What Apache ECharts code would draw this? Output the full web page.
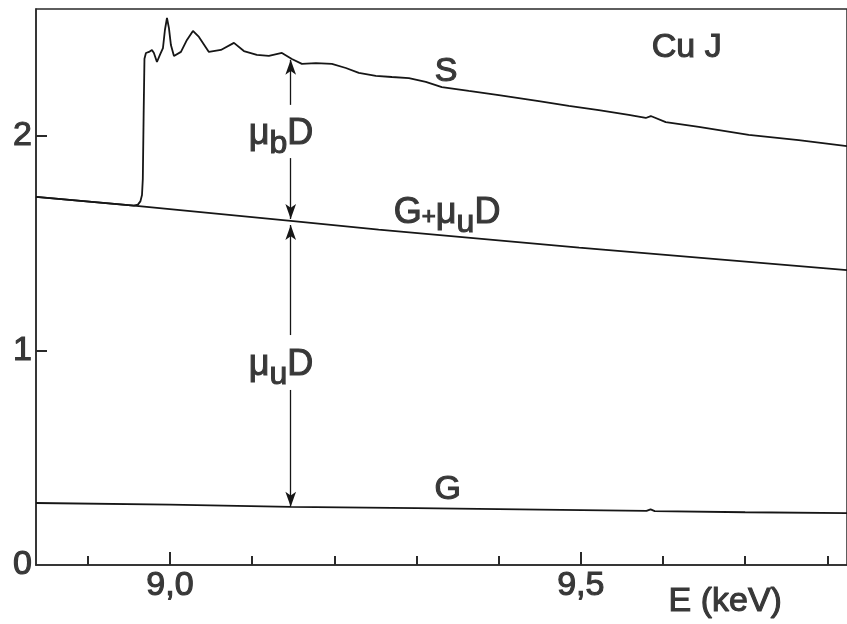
<!DOCTYPE html>
<html>
<head>
<meta charset="utf-8">
<script src="https://cdn.jsdelivr.net/npm/echarts@6/dist/echarts.min.js"></script>
<style>
html, body { margin: 0; padding: 0; background: #fff; }
#chart { width: 847px; height: 624px; }
</style>
</head>
<body>
<div id="chart"></div>
<script>
// Axis ranges and ticks
const energyRange = [8.837, 9.824];
const energyTicks = [8.9, 9.0, 9.1, 9.2, 9.3, 9.4, 9.5, 9.6, 9.7, 9.8];
const energyLabels = [9.0, 9.5];
const absorptionRange = [0, 2.592];
const absorptionTicks = [1, 2];
const absorptionLabels = [0, 1, 2];

// G: empty-cell background
const gCurve = [
  [8.837, 0.289], [9.0, 0.281], [9.147, 0.271], [9.3, 0.265], [9.45, 0.258],
  [9.58, 0.252], [9.585, 0.259], [9.59, 0.251], [9.7, 0.246], [9.824, 0.242]
];

// G + mu_u D: background plus unbound absorption
const guCurve = [
  [8.837, 1.716], [8.956, 1.675], [9.147, 1.604], [9.254, 1.563],
  [9.498, 1.480], [9.824, 1.375]
];

// S: measured CuJ spectrum across the Cu K edge
const sCurve = [
  [8.837, 1.716], [8.956, 1.675], [8.961, 1.680], [8.964, 1.695], [8.966, 1.725],
  [8.967, 1.80], [8.968, 2.10], [8.969, 2.36], [8.9708, 2.387], [8.9745, 2.392],
  [8.9781, 2.401], [8.9805, 2.387], [8.9842, 2.345], [8.9878, 2.378], [8.9915, 2.410],
  [8.9939, 2.494], [8.9964, 2.550], [8.9988, 2.503], [9.0012, 2.424], [9.0049, 2.373],
  [9.0073, 2.368], [9.0134, 2.392], [9.0207, 2.448], [9.0280, 2.490], [9.0353, 2.462],
  [9.0474, 2.392], [9.0620, 2.401], [9.0779, 2.434], [9.0900, 2.396], [9.1058, 2.378],
  [9.1204, 2.373], [9.1363, 2.387], [9.1484, 2.359], [9.1606, 2.336], [9.1776, 2.340],
  [9.1971, 2.336], [9.2141, 2.317], [9.2299, 2.294], [9.2506, 2.280], [9.2701, 2.275],
  [9.2908, 2.270], [9.3114, 2.252], [9.3309, 2.228], [9.3637, 2.210], [9.4002, 2.191],
  [9.4489, 2.163], [9.4854, 2.140], [9.5219, 2.121], [9.5584, 2.098], [9.5791, 2.084],
  [9.5852, 2.093], [9.6034, 2.065], [9.6436, 2.042], [9.7044, 2.005], [9.7652, 1.981],
  [9.824, 1.953]
];

// Dimension arrows at one energy: [tip, shaft end] pairs with a gap for the label
const arrowEnergy = 9.147;
const muBArrow = [[2.355, 2.145], [1.897, 1.613]];
const muUArrow = [[1.585, 1.072], [0.816, 0.272]];

// Text anchors [energy, value]
const sLabelAt = [9.336, 2.298];
const sampleLabelAt = [9.629, 2.41];
const gLabelAt = [9.338, 0.350];
const guLabelAt = [9.2725, 1.622];
const muBLabelAt = [9.096, 1.990];
const muULabelAt = [9.096, 0.913];

const ink = '#161616';
const textInk = '#383838';
const font = '"Liberation Sans", Arial, sans-serif';

const baseText = {
  color: textInk, fontFamily: font, fontSize: 34,
  textBorderColor: textInk, textBorderWidth: 1.1
};
const richStyles = {
  m: { ...baseText, fontSize: 36, lineHeight: 36, verticalAlign: 'top' },
  p: { ...baseText, fontSize: 24, lineHeight: 44, verticalAlign: 'middle' },
  s: { ...baseText, fontSize: 32, lineHeight: 44, verticalAlign: 'bottom' }
};

function textPoint(coord, text, align) {
  return {
    coord: coord,
    symbol: 'circle', symbolSize: 1,
    itemStyle: { color: 'transparent' },
    label: {
      show: true, position: 'inside', align: align || 'center',
      formatter: text, rich: richStyles, ...baseText
    }
  };
}

function arrowPair(top, bottom, arrowAtTop) {
  return [
    { coord: [arrowEnergy, top], symbol: arrowAtTop ? 'arrow' : 'none' },
    { coord: [arrowEnergy, bottom], symbol: arrowAtTop ? 'none' : 'arrow' }
  ];
}

const chart = echarts.init(document.getElementById('chart'), null, { renderer: 'canvas' });

const lineSeries = (name, data, width) => ({
  name, type: 'line', data, showSymbol: false, symbol: 'none',
  lineStyle: { color: ink, width: width }, silent: true, animation: false
});

const gSeries = lineSeries('G', gCurve, 1.8);
gSeries.markLine = {
  silent: true, animation: false,
  symbolSize: [8, 15],
  lineStyle: { color: ink, width: 1.3, type: 'solid' },
  itemStyle: { color: ink },
  label: { show: false },
  data: [
    arrowPair(muBArrow[0][0], muBArrow[0][1], true),
    arrowPair(muBArrow[1][0], muBArrow[1][1], false),
    arrowPair(muUArrow[0][0], muUArrow[0][1], true),
    arrowPair(muUArrow[1][0], muUArrow[1][1], false)
  ]
};
gSeries.markPoint = {
  silent: true, animation: false,
  data: [
    textPoint(sLabelAt, 'S'),
    textPoint(sampleLabelAt, 'Cu J'),
    textPoint(gLabelAt, 'G'),
    textPoint(guLabelAt, '{m|G}{p|+}{m|μ}{s|u}{m|D}', 'left'),
    textPoint(muBLabelAt, '{m|μ}{s|b}{m|D}', 'left'),
    textPoint(muULabelAt, '{m|μ}{s|u}{m|D}', 'left')
  ]
};

const axisInk = '#2a2a2a';

chart.setOption({
  animation: false,
  backgroundColor: '#fff',
  grid: {
    left: 36, right: -2, top: 9, bottom: 59,
    show: true, borderColor: axisInk, borderWidth: 1.5, backgroundColor: 'transparent'
  },
  xAxis: [
    {
      type: 'value', min: energyRange[0], max: energyRange[1],
      axisLine: { show: true, lineStyle: { color: axisInk, width: 1.5 } },
      axisTick: { show: true, inside: true, length: 9, customValues: energyTicks,
        lineStyle: { color: axisInk, width: 2 } },
      axisLabel: {
        customValues: energyLabels, margin: 4,
        formatter: v => v.toFixed(1).replace('.', ','),
        ...baseText
      },
      splitLine: { show: false }
    },
    {
      // longer ticks at the labelled energies, drawn on the bottom edge
      type: 'value', min: energyRange[0], max: energyRange[1],
      position: 'top', offset: -556,
      axisLine: { show: false },
      axisTick: { show: true, inside: false, length: 13, customValues: energyLabels,
        lineStyle: { color: axisInk, width: 2 } },
      axisLabel: { show: false },
      splitLine: { show: false }
    }
  ],
  yAxis: {
    type: 'value', min: absorptionRange[0], max: absorptionRange[1],
    axisLine: { show: true, lineStyle: { color: axisInk, width: 1.5 } },
    axisTick: { show: true, inside: true, length: 11, customValues: absorptionTicks,
      lineStyle: { color: axisInk, width: 2 } },
    axisLabel: { customValues: absorptionLabels, margin: 4, formatter: v => String(v), ...baseText },
    splitLine: { show: false }
  },
  graphic: [{
    type: 'text', left: 668, top: 584,
    style: { text: 'E (keV)', fill: textInk, font: '34px ' + font,
      stroke: textInk, lineWidth: 1.1 }
  }],
  series: [
    gSeries,
    lineSeries('G+μuD', guCurve, 1.8),
    lineSeries('S', sCurve, 1.8)
  ]
});
</script>
</body>
</html>
